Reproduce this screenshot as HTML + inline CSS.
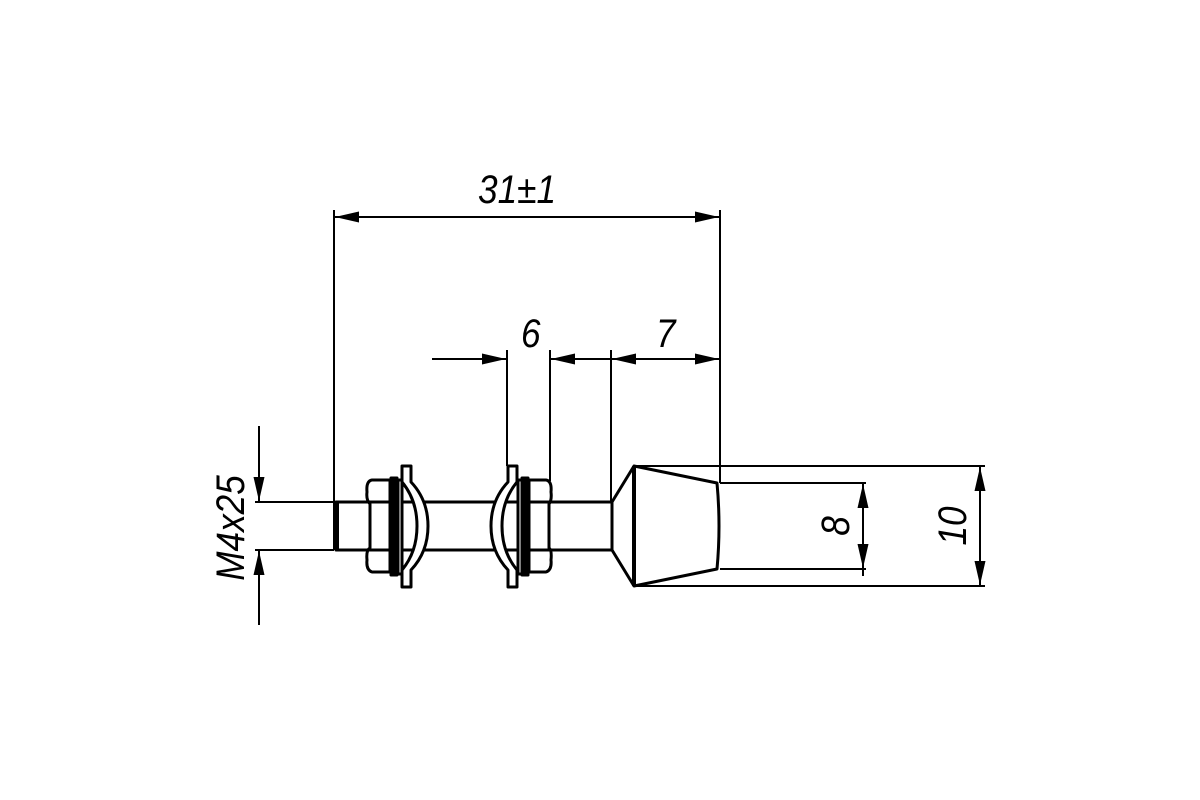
<!DOCTYPE html>
<html><head><meta charset="utf-8"><style>
html,body{margin:0;padding:0;background:#fff;}
svg{display:block;}
text{font-family:"Liberation Sans",sans-serif;font-style:italic;font-size:40px;fill:#000;}
</style></head><body>
<svg width="1200" height="800" viewBox="0 0 1200 800" xmlns="http://www.w3.org/2000/svg">
<defs>
<marker id="a" viewBox="0 0 24 11" refX="24" refY="5.5" markerWidth="24" markerHeight="11" markerUnits="userSpaceOnUse" orient="auto-start-reverse">
<path d="M0,0 L24,5.5 L0,11 Z" fill="#000"/>
</marker>
</defs>
<g stroke="#000" fill="none" stroke-width="2">
<line x1="334" y1="210" x2="334" y2="502"/>
<line x1="720" y1="210" x2="720" y2="483"/>
<line x1="335" y1="217" x2="719" y2="217" marker-start="url(#a)" marker-end="url(#a)"/>
<line x1="507" y1="350" x2="507" y2="466"/>
<line x1="550" y1="350" x2="550" y2="481"/>
<line x1="611" y1="350" x2="611" y2="502"/>
<line x1="432" y1="359" x2="506" y2="359" marker-end="url(#a)"/>
<line x1="611" y1="359" x2="551" y2="359" marker-end="url(#a)"/>
<line x1="612" y1="359" x2="719" y2="359" marker-start="url(#a)" marker-end="url(#a)"/>
<line x1="255" y1="502" x2="334" y2="502"/>
<line x1="255" y1="550" x2="334" y2="550"/>
<line x1="259" y1="426" x2="259" y2="501" marker-end="url(#a)"/>
<line x1="259" y1="625" x2="259" y2="551" marker-end="url(#a)"/>
<line x1="634" y1="466" x2="985" y2="466"/>
<line x1="634" y1="586" x2="985" y2="586"/>
<line x1="720" y1="483" x2="866" y2="483"/>
<line x1="720" y1="569" x2="866" y2="569"/>
<line x1="980" y1="467" x2="980" y2="585" marker-start="url(#a)" marker-end="url(#a)"/>
<line x1="863" y1="484" x2="863" y2="576" marker-start="url(#a)"/>
<line x1="863" y1="484" x2="863" y2="568" marker-end="url(#a)"/>
</g>
<g stroke="#000" fill="#fff" stroke-width="3" stroke-linejoin="round">
<rect x="336" y="502" width="276" height="48"/>
<line x1="336" y1="502" x2="336" y2="550" stroke-width="6"/>
<path d="M372,480 L390,480 L390,572 L372,572 Q366,570 367,560 Q366,550 370,548 L370,504 Q366,500 367,492 Q366,481 372,480 Z"/>
<line x1="368" y1="502" x2="390" y2="502"/><line x1="368" y1="550" x2="390" y2="550"/>
<rect x="391" y="478" width="6" height="97" fill="#000"/>
<rect x="398" y="480" width="4" height="94"/>
<path d="M402,466 L411,466 L411,482 Q428,500 428,526 Q428,552 411,570 L411,587 L402,587 L402,570 Q417,552 417,526 Q417,500 402,482 Z"/>
<path d="M508,466 L517,466 L517,482 Q502,500 502,526 Q502,552 517,570 L517,587 L508,587 L508,570 Q491,552 491,526 Q491,500 508,482 Z"/>
<rect x="518" y="480" width="4" height="94"/>
<rect x="522" y="478" width="6" height="97" fill="#000"/>
<path d="M529,480 L546,480 Q552,481 551,492 Q552,500 549,504 L549,548 Q552,550 551,560 Q552,570 546,572 L529,572 Z"/>
<line x1="529" y1="502" x2="551" y2="502"/><line x1="529" y1="550" x2="551" y2="550"/>
<path d="M612,502 L634,466 L717,483 Q721,526 717,569 L634,586 L612,550 Z"/>
<line x1="634" y1="466" x2="634" y2="586" stroke-width="4"/>
</g>
<text transform="translate(478,203) scale(0.88,1)">31±1</text>
<text transform="translate(521,347) scale(0.88,1)">6</text>
<text transform="translate(656,347) scale(0.88,1)">7</text>
<text transform="translate(244,528) rotate(-90) scale(0.88,1)" text-anchor="middle">M4x25</text>
<text transform="translate(849,526) rotate(-90) scale(0.88,1)" text-anchor="middle">8</text>
<text transform="translate(966,526) rotate(-90) scale(0.88,1)" text-anchor="middle">10</text>
</svg>
</body></html>
